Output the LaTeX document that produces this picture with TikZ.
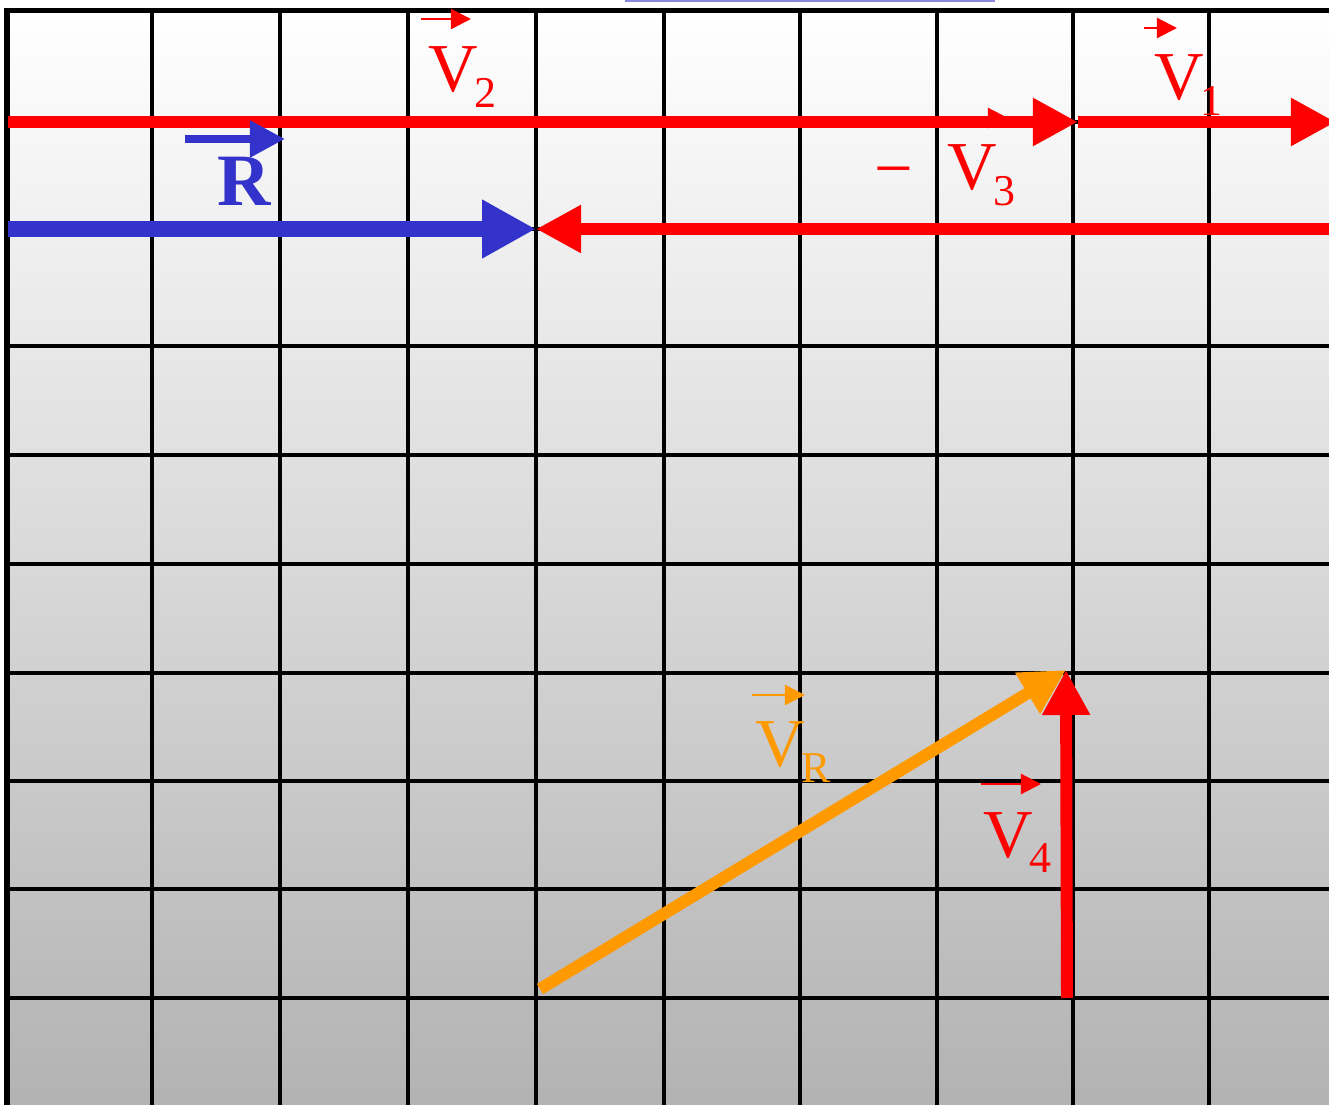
\documentclass[tikz,border=0pt]{standalone}
\usepackage{fontspec}
\setmainfont{Liberation Serif}
\usetikzlibrary{arrows.meta}

\begin{document}
\begin{tikzpicture}[x=0.01cm,y=0.01cm]
  % ----- styles & colors -----
  \definecolor{vred}{RGB}{255,0,0}
  \definecolor{vblue}{RGB}{51,51,204}
  \definecolor{vorange}{RGB}{255,153,0}
  \definecolor{capline}{RGB}{136,136,221}
  \tikzset{
    gridline/.style={draw=black,line width=0.9pt},
    frame/.style={draw=black,line width=1.6pt},
    vecarr/.style={line width=3.4pt,-{Triangle[length=12.8pt,width=12.8pt]}},
    hatarr/.style={line width=0.6pt,-{Triangle[length=5.7pt,width=5.7pt]}},
    lbl/.style={inner sep=0pt,anchor=base west,font=\fontsize{19.5}{20}\selectfont}
  }
  \newcommand{\vsub}[1]{\kern-1.2pt\raisebox{-0.155cm}{\fontsize{12.5}{13}\selectfont #1}}

  \useasboundingbox (0,0) rectangle (1329,1105);
  \clip (0,0) rectangle (1329,1105);

  % ----- background & grid -----
  \shade[top color=white, bottom color=black!30] (7,0) rectangle (1329,1094);
  \foreach \x in {152,280,408,536,664,800,937,1073,1209}{
    \draw[gridline] (\x,0) -- (\x,1094);
  }
  \foreach \y in {983,876,759,650,541,432,324,216,107}{
    \draw[gridline] (7,\y) -- (1329,\y);
  }
  \draw[frame] (7,0) -- (7,1094.5) -- (1329,1094.5);
  \draw[capline,line width=0.6pt] (625,1104) -- (995,1104);

  % ----- geometry -----
  \coordinate (A0) at (8,983);    % V2 tail
  \coordinate (A1) at (1078,983); % V2 tip, V1 tail
  \coordinate (A2) at (1336,983); % V1 tip
  \coordinate (B0) at (8,876);    % R tail
  \coordinate (B1) at (536,876);  % R tip, -V3 tip
  \coordinate (B2) at (1329,876); % -V3 tail
  \coordinate (C0) at (540,116);  % VR tail
  \coordinate (C1) at (1066,435); % VR tip, V4 tip
  \coordinate (D0) at (1067,107); % V4 tail

  % ----- vectors -----
  \draw[vecarr,vred] (A0) -- (A1);
  \draw[vecarr,vred] (A1) -- (A2);
  \draw[vecarr,vred] (B2) -- (B1);
  \draw[vecarr,vblue,line width=4.5pt,-{Triangle[length=15.3pt,width=15.6pt]}] (B0) -- (B1);
  \draw[vecarr,vorange] (C0) -- (C1);
  \draw[vecarr,vred] (D0) -- (C1);

  % ----- labels -----
  \node[lbl,text=vred] (v2lbl) at (428,1013) {V\vsub{2}};
  \node[lbl,text=vred] (v1lbl) at (1154,1005) {V\vsub{1}};
  \node[lbl,text=vred] (v3lbl) at (947,915) {V\vsub{3}};
  \node[inner sep=0pt,text=vred,font=\fontsize{19.5}{20}\selectfont] (minus) at (894,926) {−};
  \node[lbl,text=vblue,font=\fontsize{21}{21}\selectfont\bfseries] (rlbl) at (217,899) {R};
  \node[lbl,text=vorange] (vrlbl) at (755,338) {V\vsub{R}};
  \node[lbl,text=vred] (v4lbl) at (983,248) {V\vsub{4}};

  % vector hats
  \draw[hatarr,vred] (421,1086) -- (471,1086);
  \draw[hatarr,vred] (1144,1077) -- (1177,1077);
  \draw[hatarr,vred] (947,987) -- (1008,987);
  \draw[hatarr,vblue,line width=2.3pt,-{Triangle[length=10pt,width=10pt]}] (185,966) -- (285,966);
  \draw[hatarr,vorange] (752,410) -- (805,410);
  \draw[hatarr,vred] (981,321) -- (1041,321);
\end{tikzpicture}
\end{document}
